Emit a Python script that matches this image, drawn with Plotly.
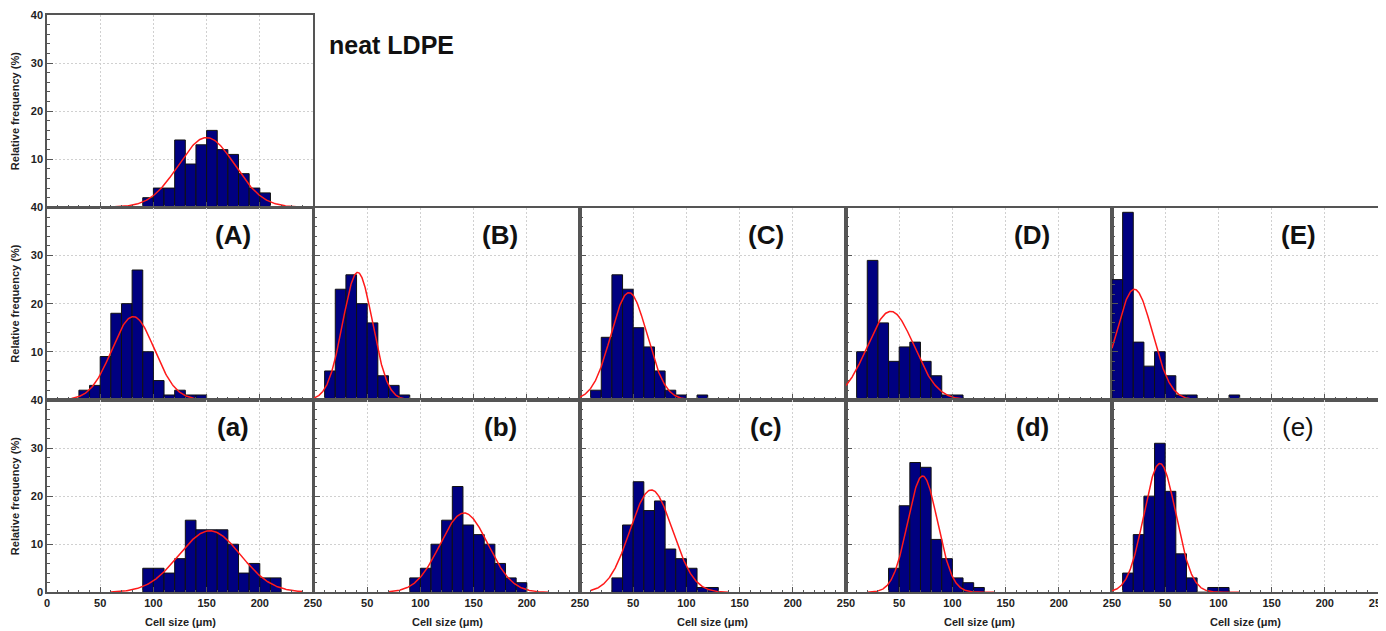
import numpy as np
import plotly.graph_objects as go

BIN_WIDTH = 10

# ---- histogram data (relative frequency %, 10 µm bins) ----
neat_start = 90
neat_freq = [2, 4, 4, 14, 9, 13, 16, 12, 11, 7, 4, 3]

A_start = 30
A_freq = [2, 3, 9, 18, 20, 27, 10, 4, 1, 2, 1, 1]
B_start = 10
B_freq = [6, 23, 26, 20, 16, 5, 3, 1]
C_start = 10
C_freq = [2, 13, 26, 23, 15, 11, 6, 2, 1, 0, 1]
D_start = 10
D_freq = [10, 29, 16, 8, 11, 12, 8, 5, 1, 1]
E_start = 0
E_freq = [25, 39, 12, 7, 10, 5, 1, 1, 0, 0, 0, 1]

a_start = 90
a_freq = [5, 5, 4, 7, 15, 13, 13, 13, 10, 4, 6, 3, 3]
b_start = 90
b_freq = [3, 5, 10, 15, 22, 14, 12, 10, 6, 3, 2]
c_start = 30
c_freq = [3, 14, 23, 17, 19, 9, 7, 5, 1, 1]
d_start = 40
d_freq = [5, 18, 27, 26, 11, 7, 3, 2, 1]
e_start = 10
e_freq = [4, 12, 20, 31, 21, 8, 3, 0, 1, 1]

# ---- normal-fit curves: peak, mean, sd, x-from, x-to ----
neat_fit = [14.5, 150, 26.5, 60, 240]
A_fit = [17.3, 81, 20, 10, 240]
B_fit = [26.5, 41, 14, 0, 100]
C_fit = [22.3, 46, 17, 0, 130]
D_fit = [18.4, 42, 22, 0, 130]
E_fit = [23.0, 21, 17, 0, 120]
a_fit = [12.8, 153, 29, 60, 240]
b_fit = [16.5, 141, 22.5, 70, 220]
c_fit = [21.3, 67, 20, 10, 140]
d_fit = [24.2, 72, 14, 20, 140]
e_fit = [26.8, 45, 15, 0, 120]

labels = ["neat LDPE", "(A)", "(B)", "(C)", "(D)", "(E)", "(a)", "(b)", "(c)", "(d)", "(e)"]

x_ticks = [0, 50, 100, 150, 200, 250]
y_ticks = [0, 10, 20, 30, 40]

panels = [
    (0, 0, neat_start, neat_freq, neat_fit),
    (1, 0, A_start, A_freq, A_fit),
    (1, 1, B_start, B_freq, B_fit),
    (1, 2, C_start, C_freq, C_fit),
    (1, 3, D_start, D_freq, D_fit),
    (1, 4, E_start, E_freq, E_fit),
    (2, 0, a_start, a_freq, a_fit),
    (2, 1, b_start, b_freq, b_fit),
    (2, 2, c_start, c_freq, c_fit),
    (2, 3, d_start, d_freq, d_fit),
    (2, 4, e_start, e_freq, e_fit),
]

# page body adds an 8 px margin, so the figure is placed 8 px in from the top-left
OFF = 8
W, H = 1386 - OFF, 631 - OFF
col_left = [p - OFF for p in [47, 314, 580, 846, 1112]]
col_w = 266
row_top = [p - OFF for p in [15, 207.5, 400]]
row_h = 192.3

FONT = "Arial, Liberation Sans"

fig = go.Figure()
annotations = []
layout_axes = {}

for i, (r, c, start, freq, fit) in enumerate(panels):
    n = i + 1
    xa = "x" if n == 1 else f"x{n}"
    ya = "y" if n == 1 else f"y{n}"
    centers = [start + BIN_WIDTH * k + BIN_WIDTH / 2 for k in range(len(freq))]
    fig.add_trace(go.Bar(
        x=centers, y=freq, width=BIN_WIDTH, xaxis=xa, yaxis=ya,
        marker=dict(color="#000080", line=dict(color="#111111", width=1)),
        showlegend=False, hoverinfo="x+y"))
    peak, mu, sd, x0, x1 = fit
    xs = np.linspace(x0, x1, 300)
    ys = peak * np.exp(-(xs - mu) ** 2 / (2 * sd ** 2))
    fig.add_trace(go.Scatter(
        x=xs, y=ys, mode="lines", xaxis=xa, yaxis=ya,
        line=dict(color="#ff1a1a", width=1.5), showlegend=False, hoverinfo="skip"))

    xd = [col_left[c] / W, (col_left[c] + col_w) / W]
    yd = [(H - (row_top[r] + row_h)) / H, (H - row_top[r]) / H]

    xtext = [str(v) for v in x_ticks]
    if c > 0:
        xtext[0] = ""
    ytext = [str(v) for v in y_ticks]
    if r < 2:
        ytext[0] = ""

    common = dict(
        showline=True, mirror=True, linecolor="#555555", linewidth=1.5,
        zeroline=False, showgrid=True, gridcolor="#d0d0d0", griddash="2px,2px", gridwidth=1,
        ticks="inside", ticklen=6, tickwidth=1, tickcolor="#555555",
        tickfont=dict(family=FONT, size=11, color="#222222", weight="bold"),
        automargin=False, fixedrange=True, ticklabeloverflow="allow",
    )
    layout_axes["xaxis" if n == 1 else f"xaxis{n}"] = dict(
        common, domain=xd, anchor=ya, range=[0, 250],
        tickmode="array", tickvals=x_ticks, ticktext=xtext,
        showticklabels=(r == 2),
        minor=dict(tickmode="array", tickvals=list(range(10, 250, 10)),
                   ticks="inside", ticklen=3, tickcolor="#555555", showgrid=False),
    )
    layout_axes["yaxis" if n == 1 else f"yaxis{n}"] = dict(
        common, domain=yd, anchor=xa, range=[0, 40],
        tickmode="array", tickvals=y_ticks, ticktext=ytext,
        showticklabels=(c == 0),
        minor=dict(tickmode="array", tickvals=list(range(2, 40, 2)),
                   ticks="inside", ticklen=3, tickcolor="#555555", showgrid=False),
    )

    if i == 0:
        annotations.append(dict(
            text=labels[i], xref="paper", yref="paper", x=(327 - OFF) / W, y=(H - (45 - OFF)) / H,
            xanchor="left", yanchor="middle", showarrow=False,
            font=dict(family=FONT, size=25, color="#111111", weight="bold")))
    else:
        annotations.append(dict(
            text=labels[i], xref=xa, yref=ya, x=175, y=34.3,
            xanchor="center", yanchor="middle", showarrow=False,
            font=dict(family=FONT, size=26, color="#111111",
                      weight=("normal" if labels[i] == "(e)" else "bold"))))

# y titles for each row
for r in range(3):
    annotations.append(dict(
        text="Relative frequency (%)", xref="paper", yref="paper",
        x=(15 - OFF) / W, y=(H - (row_top[r] + row_h / 2)) / H, textangle=-90,
        xanchor="center", yanchor="middle", showarrow=False,
        font=dict(family=FONT, size=11, color="#222222", weight="bold")))

# x titles for bottom row
for c in range(5):
    annotations.append(dict(
        text="Cell size (\u03bcm)", xref="paper", yref="paper",
        x=(col_left[c] + col_w / 2) / W, y=(H - (622 - OFF)) / H,
        xanchor="center", yanchor="middle", showarrow=False,
        font=dict(family=FONT, size=11, color="#222222", weight="bold")))

fig.update_layout(
    width=W, height=H, margin=dict(l=0, r=0, t=0, b=0),
    paper_bgcolor="white", plot_bgcolor="white",
    annotations=annotations, **layout_axes)

fig.write_html("out.html")
